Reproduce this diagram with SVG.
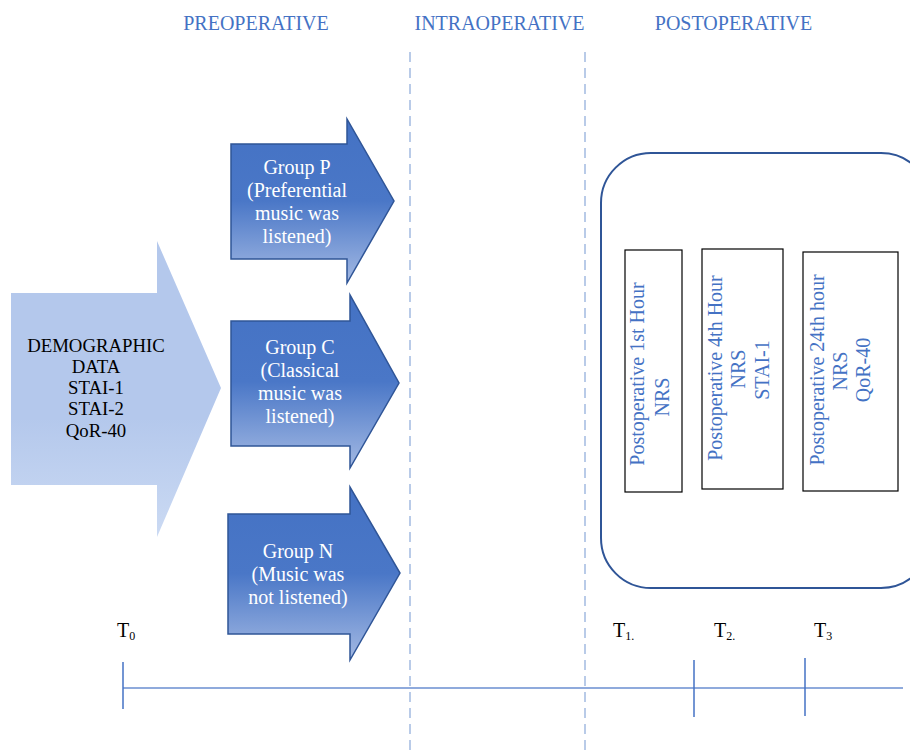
<svg xmlns="http://www.w3.org/2000/svg" width="910" height="751" viewBox="0 0 910 751">
  <defs>
    <linearGradient id="groupFill" x1="0" y1="0" x2="0" y2="1">
      <stop offset="0" stop-color="#4472c4"/>
      <stop offset="0.5" stop-color="#4a77c7"/>
      <stop offset="1" stop-color="#a3b9e3"/>
    </linearGradient>
    <linearGradient id="dataFill" x1="0" y1="0" x2="0" y2="1">
      <stop offset="0" stop-color="#b4c8ec"/>
      <stop offset="0.6" stop-color="#b4c8ec"/>
      <stop offset="1" stop-color="#cbdaf3"/>
    </linearGradient>
  </defs>
  <style>
    text { font-family: "Liberation Serif", "Times New Roman", serif; }
    .phase { font-size: 20px; fill: #4472c4; text-anchor: middle; }
    .divider { stroke: #b9cbe8; stroke-width: 2; stroke-dasharray: 10 6; fill: none; }
    .group { fill: url(#groupFill); stroke: #2f5597; stroke-width: 1.5; }
    .group-label { font-size: 20px; fill: #ffffff; text-anchor: middle; }
    .data-label { font-size: 18.8px; fill: #000000; text-anchor: middle; }
    .panel { fill: none; stroke: #2f5597; stroke-width: 2; }
    .step { fill: #ffffff; stroke: #000000; stroke-width: 1.2; }
    .step-label { font-size: 20px; fill: #4472c4; text-anchor: middle; }
    .axis { stroke: #8faadc; stroke-width: 2; }
    .tick { stroke: #4472c4; stroke-width: 1.5; }
    .time { font-size: 20px; fill: #000000; }
    .sub { font-size: 12px; }
  </style>

  <!-- phase headings -->
  <text class="phase" x="256" y="30">PREOPERATIVE</text>
  <text class="phase" x="499.5" y="30">INTRAOPERATIVE</text>
  <text class="phase" x="733.5" y="30">POSTOPERATIVE</text>

  <!-- phase dividers -->
  <line class="divider" x1="410" y1="52" x2="410" y2="751"/>
  <line class="divider" x1="585" y1="52" x2="585" y2="751"/>

  <!-- baseline data -->
  <g id="baseline-data">
    <polygon points="11,293 157,293 157,241 221,388 157,537 157,485 11,485" fill="url(#dataFill)"/>
    <text class="data-label" x="96" y="352">DEMOGRAPHIC</text>
    <text class="data-label" x="96" y="373">DATA</text>
    <text class="data-label" x="96" y="394">STAI-1</text>
    <text class="data-label" x="96" y="415">STAI-2</text>
    <text class="data-label" x="96" y="437">QoR-40</text>
  </g>

  <!-- study groups -->
  <g id="group-p">
    <polygon class="group" points="231,144 347,144 347,119 394,201 347,283 347,259 231,259"/>
    <text class="group-label" x="297" y="174">Group P</text>
    <text class="group-label" x="297" y="197">(Preferential</text>
    <text class="group-label" x="297" y="220">music was</text>
    <text class="group-label" x="297" y="243">listened)</text>
  </g>

  <g id="group-c">
    <polygon class="group" points="231,321 350,321 350,295 399,383 350,468 350,446 231,446"/>
    <text class="group-label" x="300" y="354">Group C</text>
    <text class="group-label" x="300" y="377">(Classical</text>
    <text class="group-label" x="300" y="400">music was</text>
    <text class="group-label" x="300" y="423">listened)</text>
  </g>

  <g id="group-n">
    <polygon class="group" points="228,514 350,514 350,487 400,573 350,660 350,634 228,634"/>
    <text class="group-label" x="298" y="558">Group N</text>
    <text class="group-label" x="298" y="581">(Music was</text>
    <text class="group-label" x="298" y="604">not listened)</text>
  </g>

  <!-- postoperative assessments -->
  <g id="postop-panel">
    <rect class="panel" x="601" y="153" width="330" height="435" rx="50" ry="50"/>
  </g>

  <g id="postop-1h">
    <rect class="step" x="625" y="250" width="57" height="242"/>
    <text class="step-label" transform="translate(644,374) rotate(-90)">Postoperative 1st Hour</text>
    <text class="step-label" transform="translate(669,397) rotate(-90)">NRS</text>
  </g>

  <g id="postop-4h">
    <rect class="step" x="702" y="249" width="81" height="240"/>
    <text class="step-label" transform="translate(722,368) rotate(-90)">Postoperative 4th Hour</text>
    <text class="step-label" transform="translate(745,369) rotate(-90)">NRS</text>
    <text class="step-label" transform="translate(769,370) rotate(-90)">STAI-1</text>
  </g>

  <g id="postop-24h">
    <rect class="step" x="803" y="252" width="95" height="239"/>
    <text class="step-label" transform="translate(824,370) rotate(-90)">Postoperative 24th hour</text>
    <text class="step-label" transform="translate(847,371) rotate(-90)">NRS</text>
    <text class="step-label" transform="translate(870,370) rotate(-90)">QoR-40</text>
  </g>

  <!-- timeline -->
  <g id="timeline">
    <line class="axis" x1="123" y1="688" x2="903" y2="688"/>
    <line class="tick" x1="123" y1="662" x2="123" y2="709"/>
    <line class="tick" x1="694" y1="660" x2="694" y2="717"/>
    <line class="tick" x1="805" y1="658" x2="805" y2="716"/>
    <text class="time" x="117" y="637">T<tspan class="sub" dy="3">0</tspan></text>
    <text class="time" x="613" y="637">T<tspan class="sub" dy="3">1.</tspan></text>
    <text class="time" x="714" y="637">T<tspan class="sub" dy="3">2.</tspan></text>
    <text class="time" x="814" y="637">T<tspan class="sub" dy="3">3</tspan></text>
  </g>
</svg>
